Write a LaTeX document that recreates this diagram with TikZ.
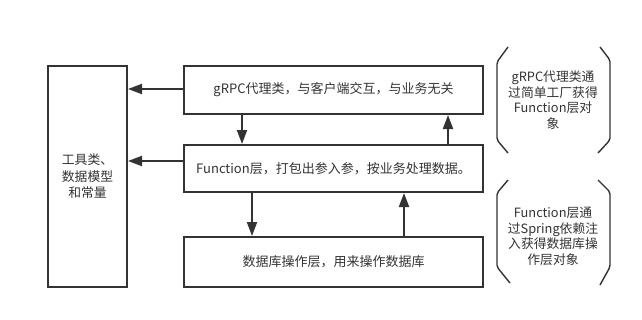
\documentclass[tikz,border=0pt]{standalone}
\usepackage{fontspec}
\setmainfont{Noto Sans CJK SC}
\usetikzlibrary{arrows.meta}
\definecolor{ink}{HTML}{333333}
\tikzset{
  layer/.style={draw=ink, line width=2pt, inner sep=0pt, text=ink,
    font=\fontsize{13}{15}\selectfont},
  arr/.style={draw=ink, line width=2pt, -{Triangle[length=14pt,width=10pt]}},
  brace/.style={draw=ink, line width=1.4pt, rounded corners=2pt},
  note/.style={text=ink, align=center, font=\fontsize{12.8}{15.5}\selectfont}
}
\begin{document}
\begin{tikzpicture}[x=1pt,y=-1pt]
\useasboundingbox (0,0) rectangle (642,319);

% layer boxes
\node[layer, minimum width=79pt, minimum height=221pt, align=center,
  font=\fontsize{12.8}{16.5}\selectfont] (tools) at (87.5,176.5) {工具类、\\数据模型\\和常量};
\node[layer, minimum width=299pt, minimum height=48pt] (grpc) at (333.5,90) {gRPC代理类，与客户端交互，与业务无关};
\node[layer, minimum width=299pt, minimum height=47pt] (func) at (333.5,168.5) {Function层，打包出参入参，按业务处理数据。};
\node[layer, minimum width=299pt, minimum height=50pt] (db) at (333.5,262) {数据库操作层，用来操作数据库};

% calls towards the tools box
\draw[arr] (grpc.west |- 0,89) -- (tools.east |- 0,89);
\draw[arr] (func.west |- 0,161) -- (tools.east |- 0,161);

% calls between the layers
\draw[arr] (grpc.south -| 242,0) -- (func.north -| 242,0);
\draw[arr] (func.north -| 448,0) -- (grpc.south -| 448,0);
\draw[arr] (func.south -| 252,0) -- (db.north -| 252,0);
\draw[arr] (db.north -| 404,0) -- (func.south -| 404,0);

% side notes in bracket frames
\draw[brace] (508,47) -- (497,62) -- (497,140) -- (508,153);
\draw[brace] (600,47) -- (610,60) -- (610,140) -- (598,153);
\node[note] (note1) at (553,100) {gRPC代理类通\\过简单工厂获得\\Function层对\\象};

\draw[brace] (508,180) -- (497,193) -- (497,267) -- (510,283);
\draw[brace] (598,180) -- (610,192) -- (610,267) -- (600,285);
\node[note] (note2) at (553,236.5) {Function层通\\过Spring依赖注\\入获得数据库操\\作层对象};
\end{tikzpicture}
\end{document}
